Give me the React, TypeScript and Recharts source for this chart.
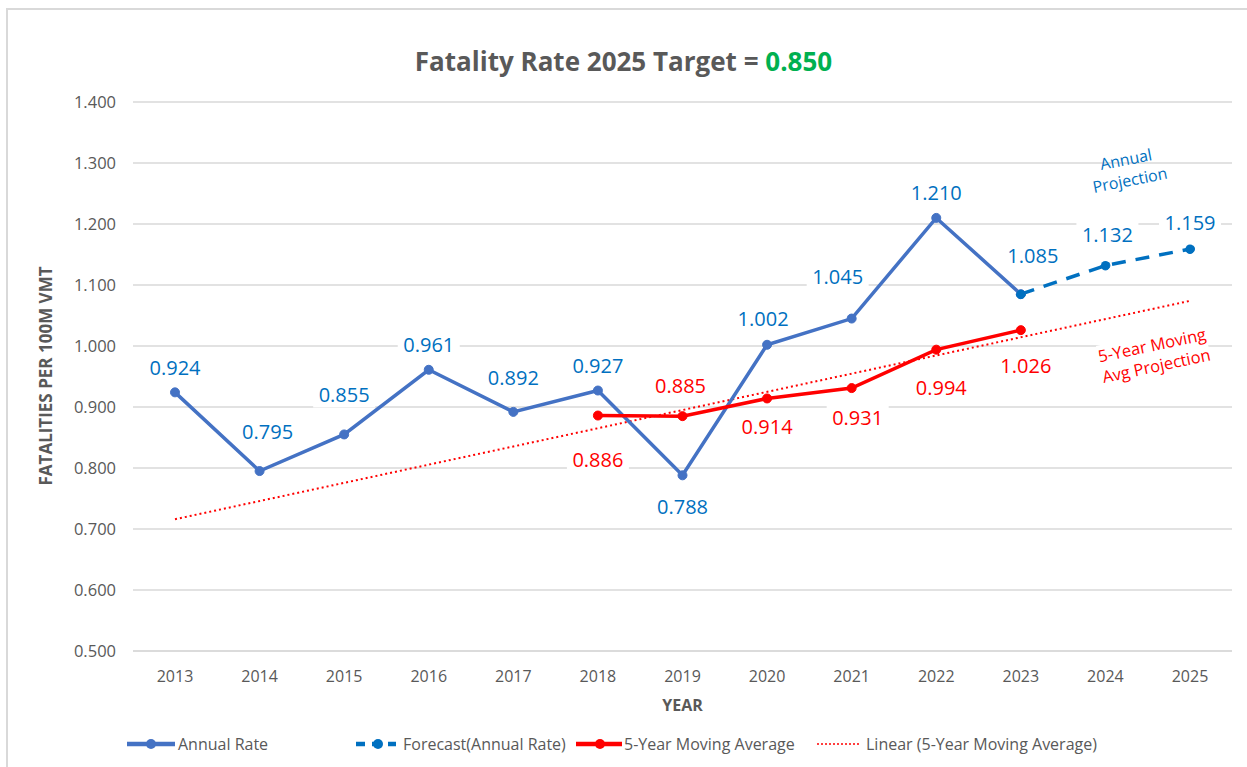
import {
  ComposedChart,
  Line,
  XAxis,
  YAxis,
  CartesianGrid,
  LabelList,
} from "recharts";

const years = ["2013", "2014", "2015", "2016", "2017", "2018", "2019", "2020", "2021", "2022", "2023", "2024", "2025"];
const annualRate = [0.924, 0.795, 0.855, 0.961, 0.892, 0.927, 0.788, 1.002, 1.045, 1.21, 1.085, null, null];
const forecastRate = [null, null, null, null, null, null, null, null, null, null, 1.085, 1.132, 1.159];
const movingAvg = [null, null, null, null, null, 0.886, 0.885, 0.914, 0.931, 0.994, 1.026, null, null];
const linearTrend = [0.716, null, null, null, null, null, null, null, null, null, null, null, 1.074];
const yTicks = [0.5, 0.6, 0.7, 0.8, 0.9, 1.0, 1.1, 1.2, 1.3, 1.4];

const data = years.map((year, i) => ({
  year,
  annual: annualRate[i],
  forecast: forecastRate[i],
  avg: movingAvg[i],
  trend: linearTrend[i],
}));

// where each data label sits relative to its point: [dx, dy]
const annualLabelPos: Record<string, [number, number]> = {
  "2013": [0, -25], "2014": [8, -40], "2015": [0, -40], "2016": [0, -25],
  "2017": [0, -34], "2018": [0, -25], "2019": [0, 31], "2020": [-4, -26],
  "2021": [-14, -42], "2022": [0, -25], "2023": [12, -39],
};
const forecastLabelPos: Record<string, [number, number]> = {
  "2024": [2, -31], "2025": [0, -27],
};
const avgLabelPos: Record<string, [number, number]> = {
  "2018": [0, 44], "2019": [-2, -31], "2020": [0, 28], "2021": [6, 29],
  "2022": [5, 38], "2023": [5, 35],
};

const FONT = "'Open Sans', sans-serif";
const GRAY = "#595959";
const BLUE = "#4472C4";
const LABEL_BLUE = "#0070C0";
const RED = "#FF0000";

function makeLabel(pos: Record<string, [number, number]>, color: string) {
  return (props: any) => {
    const { x, y, value, index } = props;
    const off = pos[years[index]];
    if (!off || value == null) return null;
    const cx = x + off[0];
    const cy = y + off[1];
    const txt = Number(value).toFixed(3);
    return (
      <g>
        <rect x={cx - 31} y={cy - 13} width={62} height={26} fill="#fff" />
        <text
          x={cx}
          y={cy}
          textAnchor="middle"
          dominantBaseline="central"
          fill={color}
          fontSize={20}
          fontFamily={FONT}
        >
          {txt}
        </text>
      </g>
    );
  };
}

function LegendIcon({ kind }: { kind: string }) {
  if (kind === "annual")
    return (
      <svg width={48} height={12}>
        <line x1={0} y1={6} x2={48} y2={6} stroke={BLUE} strokeWidth={4.5} />
        <circle cx={24} cy={6} r={5} fill={BLUE} />
      </svg>
    );
  if (kind === "forecast")
    return (
      <svg width={40} height={12}>
        <line x1={0} y1={6} x2={40} y2={6} stroke={LABEL_BLUE} strokeWidth={4.5} strokeDasharray="9 7" />
        <circle cx={22} cy={6} r={5} fill={LABEL_BLUE} />
      </svg>
    );
  if (kind === "avg")
    return (
      <svg width={46} height={12}>
        <line x1={0} y1={6} x2={46} y2={6} stroke={RED} strokeWidth={4.5} />
        <circle cx={24} cy={6} r={5} fill={RED} />
      </svg>
    );
  return (
    <svg width={43} height={12}>
      <line x1={0} y1={6} x2={43} y2={6} stroke={RED} strokeWidth={1.5} strokeDasharray="2 2" />
    </svg>
  );
}

const legendItems = [
  { kind: "annual", name: "Annual Rate", left: 127, gap: 3 },
  { kind: "forecast", name: "Forecast(Annual Rate)", left: 356, gap: 7 },
  { kind: "avg", name: "5-Year Moving Average", left: 576, gap: 2 },
  { kind: "trend", name: "Linear (5-Year Moving Average)", left: 817, gap: 6 },
];

export default function App() {
  return (
    <div
      style={{
        position: "absolute",
        left: 0,
        top: 0,
        width: 1247,
        height: 767,
        overflow: "hidden",
        background: "#fff",
        fontFamily: FONT,
      }}
    >
      <div
        style={{
          position: "absolute",
          left: 6,
          top: 8,
          width: 1300,
          height: 800,
          borderLeft: "2px solid #D9D9D9",
          borderTop: "2px solid #D9D9D9",
        }}
      />
      <ComposedChart
        width={1247}
        height={767}
        data={data}
        margin={{ top: 102, right: 15, bottom: 76, left: 0 }}
        style={{ position: "absolute", left: 0, top: 0 }}
      >
        <CartesianGrid vertical={false} stroke="#D9D9D9" strokeWidth={1.5} />
        <XAxis
          dataKey="year"
          height={40}
          padding={{ left: 42, right: 42 }}
          axisLine={{ stroke: "#D9D9D9", strokeWidth: 1.5 }}
          tickLine={false}
          tickMargin={14}
          tick={{ fill: GRAY, fontSize: 16, fontFamily: FONT }}
        />
        <YAxis
          width={133}
          domain={[0.5, 1.4]}
          ticks={yTicks}
          axisLine={false}
          tickLine={false}
          tickMargin={11}
          tickFormatter={(v: number) => v.toFixed(3)}
          tick={{ fill: GRAY, fontSize: 16.5, fontFamily: FONT }}
        />
        <Line
          dataKey="trend"
          connectNulls
          stroke={RED}
          strokeWidth={2}
          strokeDasharray="2 3"
          dot={false}
          isAnimationActive={false}
        />
        <Line
          dataKey="annual"
          stroke={BLUE}
          strokeWidth={3.5}
          dot={{ r: 4.5, fill: BLUE, stroke: BLUE, strokeWidth: 1 }}
          isAnimationActive={false}
        >
          <LabelList dataKey="annual" content={makeLabel(annualLabelPos, LABEL_BLUE)} />
        </Line>
        <Line
          dataKey="forecast"
          stroke={LABEL_BLUE}
          strokeWidth={3.5}
          strokeDasharray="14 10"
          dot={{ r: 4.5, fill: LABEL_BLUE, stroke: LABEL_BLUE, strokeWidth: 1 }}
          isAnimationActive={false}
        >
          <LabelList dataKey="forecast" content={makeLabel(forecastLabelPos, LABEL_BLUE)} />
        </Line>
        <Line
          dataKey="avg"
          stroke={RED}
          strokeWidth={3.5}
          dot={{ r: 4.5, fill: RED, stroke: RED, strokeWidth: 1 }}
          isAnimationActive={false}
        >
          <LabelList dataKey="avg" content={makeLabel(avgLabelPos, RED)} />
        </Line>
      </ComposedChart>

      <div
        style={{
          position: "absolute",
          left: 0,
          width: 1247,
          top: 43,
          textAlign: "center",
          fontSize: 26,
          fontWeight: 700,
          color: GRAY,
        }}
      >
        Fatality Rate 2025 Target = <span style={{ color: "#00B050" }}>0.850</span>
      </div>

      <div
        style={{
          position: "absolute",
          left: 133,
          width: 1099,
          top: 694,
          textAlign: "center",
          fontSize: 16,
          fontWeight: 700,
          color: GRAY,
        }}
      >
        YEAR
      </div>

      <div
        style={{
          position: "absolute",
          left: 45,
          top: 376,
          transform: "translate(-50%, -50%) rotate(-90deg)",
          whiteSpace: "nowrap",
          fontSize: 17,
          fontWeight: 700,
          color: GRAY,
        }}
      >
        FATALITIES PER 100M VMT
      </div>

      <div
        style={{
          position: "absolute",
          left: 1128,
          top: 170,
          transform: "translate(-50%, -50%) rotate(-11deg)",
          textAlign: "center",
          fontSize: 16,
          lineHeight: "21px",
          color: LABEL_BLUE,
          whiteSpace: "nowrap",
        }}
      >
        Annual
        <br />
        Projection
      </div>

      <div
        style={{
          position: "absolute",
          left: 1154,
          top: 355,
          transform: "translate(-50%, -50%) rotate(-12deg)",
          textAlign: "center",
          fontSize: 16.5,
          lineHeight: "21px",
          color: RED,
          whiteSpace: "nowrap",
          background: "#fff",
        }}
      >
        5-Year Moving
        <br />
        Avg Projection
      </div>

      {legendItems.map((it) => (
        <div
          key={it.kind}
          style={{
            position: "absolute",
            left: it.left,
            top: 733,
            height: 22,
            display: "flex",
            alignItems: "center",
            gap: it.gap,
            fontSize: 16,
            color: GRAY,
            whiteSpace: "nowrap",
          }}
        >
          <LegendIcon kind={it.kind} />
          <span>{it.name}</span>
        </div>
      ))}
    </div>
  );
}
